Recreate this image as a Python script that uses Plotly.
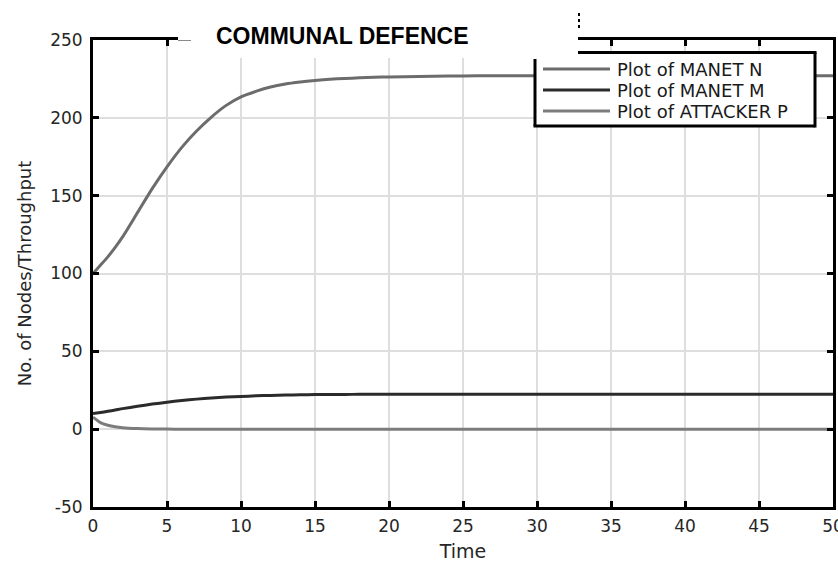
import plotly.graph_objects as go

# ---------------- data ----------------
time = [0, 0.5, 1, 1.5, 2, 3, 4, 5, 6, 7, 8, 9, 10, 11, 12, 13, 14, 15, 16, 17, 18, 19, 20,
        22, 24, 26, 28, 30, 35, 40, 45, 50]
manet_n = [100, 105.3, 110.7, 116.8, 123.5, 139, 154.5, 168.5, 181, 191.5, 200.5, 208, 213.5, 217,
           219.8, 221.7, 223, 224, 224.8, 225.3, 225.7, 226, 226.3, 226.6, 226.8, 227, 227, 227,
           227, 227, 227, 227]
manet_m = [10, 10.7, 11.5, 12.3, 13.2, 14.7, 16.1, 17.3, 18.4, 19.3, 20, 20.6, 21, 21.4, 21.7, 21.9,
           22.1, 22.2, 22.3, 22.3, 22.4, 22.4, 22.4, 22.5, 22.5, 22.5, 22.5, 22.5, 22.5, 22.5, 22.5, 22.5]
attacker_p = [7.7, 4.2, 2.5, 1.5, 0.9, 0.35, 0.12, 0.05, 0, 0, 0, 0, 0, 0, 0, 0,
              0, 0, 0, 0, 0, 0, 0, 0, 0, 0, 0, 0, 0, 0, 0, 0]

x_ticks = [0, 5, 10, 15, 20, 25, 30, 35, 40, 45, 50]
x_ticklabels = ["0", "5", "10", "15", "20", "25", "30", "35", "40", "45", "50"]
y_ticks = [-50, 0, 50, 100, 150, 200, 250]
y_ticklabels = ["-50", "0", "50", "100", "150", "200", "250"]

series_names = ["Plot of MANET N", "Plot of MANET M", "Plot of ATTACKER P"]
series_colors = ["#6c6c6c", "#2b2b2b", "#7c7c7c"]
title_text = "COMMUNAL DEFENCE"
x_title = "Time"
y_title = "No. of Nodes/Throughput"

# ---------------- figure ----------------
W, H = 838, 563
L, R, T, B = 93, 5, 40, 56
PW, PH = W - L - R, H - T - B


def px(x):
    return (x - L) / PW


def py(y):
    return (H - B - y) / PH


fig = go.Figure()
for name, ys, col in zip(series_names, [manet_n, manet_m, attacker_p], series_colors):
    fig.add_trace(go.Scatter(x=time, y=ys, name=name, mode="lines",
                             line=dict(color=col, width=3, shape="spline", smoothing=0.6),
                             showlegend=False))

tickfont = dict(family="DejaVu Sans", size=17, color="#262626")
axis_common = dict(showgrid=True, gridcolor="#dedede", gridwidth=2, zeroline=False,
                   showline=True, linecolor="black", linewidth=3, mirror="ticks",
                   ticks="inside", ticklen=6, tickwidth=3, tickcolor="black",
                   tickfont=tickfont, ticklabeloverflow="allow", automargin=False)

fig.update_xaxes(range=[0, 50], tickmode="array", tickvals=x_ticks, ticktext=x_ticklabels,
                 ticklabelstandoff=2,
                 title=dict(text=x_title, font=dict(family="DejaVu Sans", size=19, color="#262626"),
                            standoff=10),
                 **axis_common)
fig.update_yaxes(range=[-50, 250], tickmode="array", tickvals=y_ticks, ticktext=y_ticklabels,
                 ticklabelstandoff=4,
                 title=dict(text=y_title, font=dict(family="DejaVu Sans", size=18, color="#262626"),
                            standoff=14),
                 **axis_common)

shapes = []
# white patch under the title (covers top frame and grid tops)
shapes.append(dict(type="rect", xref="paper", yref="paper", x0=px(178), x1=px(578),
                   y0=py(58), y1=py(8), fillcolor="white", line=dict(width=0), layer="above"))
# thin grey stub of the top frame
shapes.append(dict(type="line", xref="paper", yref="paper", x0=px(178), x1=px(191),
                   y0=py(40.5), y1=py(40.5), line=dict(color="#8a8a8a", width=1), layer="above"))
# dotted mark
shapes.append(dict(type="line", xref="paper", yref="paper", x0=px(579), x1=px(579),
                   y0=py(13), y1=py(29), line=dict(color="black", width=2, dash="dot"), layer="above"))
# legend box
lx0, lx1, ly0, ly1 = 535, 815, 52.5, 126
shapes.append(dict(type="rect", xref="paper", yref="paper", x0=px(lx0), x1=px(lx1),
                   y0=py(ly1), y1=py(ly0), fillcolor="white", line=dict(width=0), layer="above"))
for (xa, ya, xb, yb) in [(578, ly0, lx1 + 1.5, ly0), (lx1, ly0, lx1, ly1 + 1.5),
                         (lx0 - 1.5, ly1, lx1, ly1), (lx0, 59, lx0, ly1)]:
    shapes.append(dict(type="line", xref="paper", yref="paper", x0=px(xa), x1=px(xb),
                       y0=py(ya), y1=py(yb), line=dict(color="black", width=3), layer="above"))

annotations = []
row_y = [69, 90, 111]
for name, col, yy in zip(series_names, series_colors, row_y):
    shapes.append(dict(type="line", xref="paper", yref="paper", x0=px(543), x1=px(610),
                       y0=py(yy), y1=py(yy), line=dict(color=col, width=3), layer="above"))
    annotations.append(dict(text=name, xref="paper", yref="paper", x=px(615), y=py(yy),
                            xanchor="left", yanchor="middle", showarrow=False,
                            font=dict(family="DejaVu Sans", size=18, color="#1a1a1a")))

annotations.append(dict(text="<b>" + title_text + "</b>", xref="paper", yref="paper",
                        x=px(342), y=py(36), xanchor="center", yanchor="middle", showarrow=False,
                        font=dict(family="Liberation Sans", size=23, color="black")))

fig.update_layout(width=W, height=H, margin=dict(l=L, r=R, t=T, b=B, pad=0, autoexpand=False),
                  paper_bgcolor="white", plot_bgcolor="white",
                  shapes=shapes, annotations=annotations, showlegend=False)

fig.write_html("out.html")
